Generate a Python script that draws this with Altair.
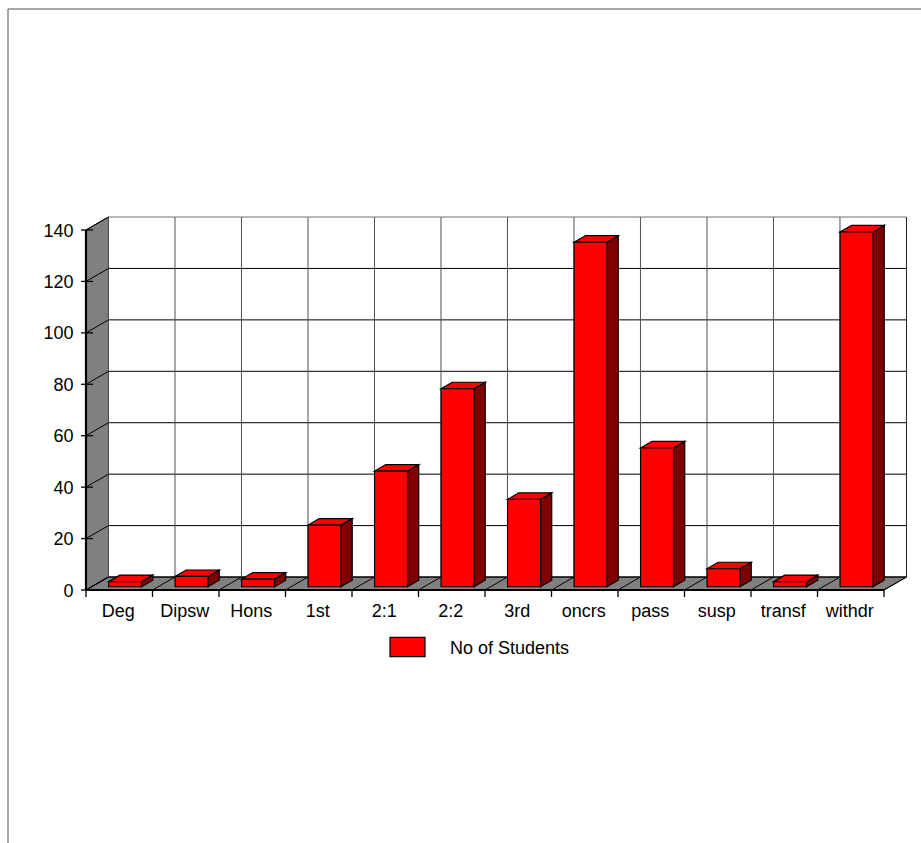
import altair as alt
import pandas as pd

categories = ["Deg", "Dipsw", "Hons", "1st", "2:1", "2:2", "3rd", "oncrs", "pass", "susp", "transf", "withdr"]
students = [2, 4, 3, 24, 45, 77, 34, 134, 54, 7, 2, 138]
y_ticks = [0, 20, 40, 60, 80, 100, 120, 140]
series_name = "No of Students"

# Oblique projection of the chart's depth axis, in data units
DX = 0.338
DY = 5.05
N = len(categories)
TOP = 140
FONT = "Liberation Sans"
LABEL_SIZE = 18

x_scale = alt.Scale(domain=[0, N], nice=False, zero=False)
y_scale = alt.Scale(domain=[0, TOP], nice=False, zero=False)
y_axis = alt.Axis(
    values=y_ticks, ticks=False, domain=False, grid=False, title=None,
    labelFont=FONT, labelFontSize=LABEL_SIZE, labelColor="#000000", labelPadding=13, labelOffset=1,
)
X = alt.X("x:Q", scale=x_scale, axis=None)
Y = alt.Y("y:Q", scale=y_scale, axis=y_axis)


def segments(rows, color, width):
    df = pd.DataFrame(rows, columns=["x", "x2", "y", "y2"])
    return alt.Chart(df).mark_rule(color=color, strokeWidth=width, clip=False).encode(
        x=X, x2="x2:Q", y=Y, y2="y2:Q"
    )


# Gray side wall and floor
wall = alt.Chart(pd.DataFrame([
    {"x": 0, "y": 0, "y2": TOP},
    {"x": DX, "y": DY, "y2": TOP + DY},
])).mark_area(color="#808080", stroke="#000000", strokeWidth=1).encode(x=X, y=Y, y2="y2:Q")

floor = alt.Chart(pd.DataFrame([
    {"y": 0, "x": 0, "x2": N},
    {"y": DY, "x": DX, "x2": N + DX},
])).mark_area(color="#808080", stroke="#000000", strokeWidth=1, orient="horizontal").encode(
    x=X, x2="x2:Q", y=Y
)

# Gridlines on the back wall, plus their diagonals across wall and floor
h_grid = segments([(DX, N + DX, v + DY, v + DY) for v in y_ticks[1:-1]] + [(DX, N + DX, DY, DY)], "#000000", 1)
top_edge = segments([(DX, N + DX, TOP + DY, TOP + DY)], "#707070", 1.2)
v_grid = segments([(i + DX, i + DX, DY, TOP + DY) for i in range(1, N)] + [(DX, DX, DY, TOP + DY)], "#505050", 1)
right_edge = segments([(N + DX, N + DX, DY, TOP + DY)], "#202020", 1)
wall_diag = segments([(0, DX, v, v + DY) for v in y_ticks], "#000000", 1)
floor_diag = segments([(i, i + DX, 0, DY) for i in range(N + 1)], "#000000", 1)

# Front axis lines
axis_lines = segments([(0, N, 0, 0), (0, 0, 0, TOP)], "#000000", 2.2)
y_marks = alt.Chart(pd.DataFrame({"y": y_ticks})).mark_rule(color="#000000", strokeWidth=1.3).encode(
    x=alt.value(-5), x2=alt.value(7), y=Y,
)
x_marks = alt.Chart(pd.DataFrame({"x": list(range(N + 1))})).mark_rule(color="#000000", strokeWidth=1.3).encode(
    x=X, y=alt.value(360), y2=alt.value(367)
)

# Bars: front, side and top faces, each sitting mid-depth in its slot
front_rows, side_rows, top_rows = [], [], []
for i, v in enumerate(students):
    x0 = i + 0.255 + DX * 0.25
    x1 = i + 0.75 + DX * 0.25
    y0 = DY * 0.25
    d_x = DX * 0.5
    d_y = DY * 0.5
    front_rows.append({"x": x0, "x2": x1, "y": y0, "y2": y0 + v, "series": series_name})
    side_rows += [
        {"bar": i, "x": x1, "y": y0, "y2": y0 + v},
        {"bar": i, "x": x1 + d_x, "y": y0 + d_y, "y2": y0 + v + d_y},
    ]
    top_rows += [
        {"bar": i, "y": y0 + v, "x": x0, "x2": x1},
        {"bar": i, "y": y0 + v + d_y, "x": x0 + d_x, "x2": x1 + d_x},
    ]

bar_side = alt.Chart(pd.DataFrame(side_rows)).mark_area(
    color="#7f0000", stroke="#000000", strokeWidth=1.2
).encode(x=X, y=Y, y2="y2:Q", detail="bar:N")

bar_top = alt.Chart(pd.DataFrame(top_rows)).mark_area(
    color="#ff0000", stroke="#000000", strokeWidth=1.2, orient="horizontal"
).encode(x=X, x2="x2:Q", y=Y, detail="bar:N")

bar_front = alt.Chart(pd.DataFrame(front_rows)).mark_rect(stroke="#000000", strokeWidth=1.2).encode(
    x=X, x2="x2:Q", y=Y, y2="y2:Q",
    fill=alt.Fill("series:N", scale=alt.Scale(domain=[series_name], range=["#ff0000"]), legend=alt.Legend(
        orient="none", legendX=303, legendY=400.5, title=None,
        symbolType="M-1,-0.664H1V0.436H-1Z", symbolSize=1225,
        symbolStrokeColor="#000000", symbolStrokeWidth=1.2, symbolOpacity=1,
        labelFont=FONT, labelFontSize=LABEL_SIZE, labelColor="#000000", labelOffset=24,
    )),
)

# Category names under each slot
cat_labels = alt.Chart(pd.DataFrame({
    "x": [i + 0.5 for i in range(N)], "label": categories,
})).mark_text(font=FONT, fontSize=LABEL_SIZE, color="#000000", baseline="middle", dx=-1).encode(
    x=X, y=alt.value(381.5), text="label:N"
)

# Page frame along the top and left edges
frame_top = alt.Chart(pd.DataFrame({"k": [0]})).mark_rule(color="#505050", strokeWidth=1).encode(
    x=alt.value(-78), x2=alt.value(835), y=alt.value(-221)
)
frame_left = alt.Chart(pd.DataFrame({"k": [0]})).mark_rule(color="#505050", strokeWidth=1).encode(
    x=alt.value(-78), y=alt.value(-221), y2=alt.value(613)
)

chart = alt.layer(
    frame_top, frame_left,
    wall, floor, h_grid, v_grid, top_edge, right_edge, wall_diag, floor_diag,
    axis_lines, y_marks, x_marks,
    bar_side, bar_top, bar_front, cat_labels,
).properties(
    width=798, height=360,
    padding={"left": 86, "top": 230, "right": 37, "bottom": 253},
    autosize=alt.AutoSizeParams(type="none"),
    background="#ffffff",
).configure_view(stroke=None)

chart.save("out.html", embed_options={"renderer": "svg", "actions": False})
